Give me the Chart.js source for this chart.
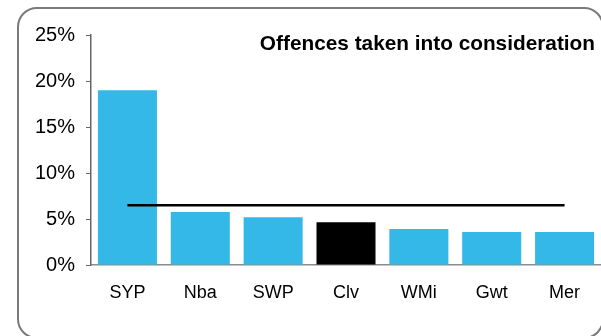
<!DOCTYPE html>
<html>
<head>
<meta charset="utf-8">
<script src="https://cdn.jsdelivr.net/npm/chart.js@4"></script>
<style>
  html, body { margin: 0; padding: 0; background: #fff; }
  #wrap { position: relative; width: 601px; height: 336px; overflow: hidden; }
  #frame { position: absolute; left: 17px; top: 7px; width: 587px; height: 332px;
           border: 2px solid #7a7a7a; border-radius: 20px; box-sizing: border-box; }
  #title { position: absolute; right: 6px; top: 31px; font: bold 20.8px "Liberation Sans", Arial, sans-serif;
           color: #000; white-space: nowrap; }
  canvas { position: absolute; left: 0; top: 0; }
</style>
</head>
<body>
<div id="wrap">
  <div id="frame"></div>
  <canvas id="c" width="601" height="336"></canvas>
  <div id="title">Offences taken into consideration</div>
</div>
<script>
const categories = ["SYP", "Nba", "SWP", "Clv", "WMi", "Gwt", "Mer"];
const offenceShare = [19.0, 5.75, 5.2, 4.65, 3.9, 3.6, 3.6];
const averageShare = [6.5, 6.5, 6.5, 6.5, 6.5, 6.5, 6.5];
const highlighted = "Clv";
const yTicks = [0, 5, 10, 15, 20, 25];

const barColors = categories.map(c => c === highlighted ? "#000000" : "#33b8e8");
const FONT = "'Liberation Sans', Arial, sans-serif";

new Chart(document.getElementById("c"), {
  type: "bar",
  data: {
    labels: categories,
    datasets: [
      {
        type: "line",
        data: averageShare,
        borderColor: "#000",
        borderWidth: 2.5,
        pointRadius: 0,
        fill: false,
        order: 0
      },
      {
        type: "bar",
        data: offenceShare,
        backgroundColor: barColors,
        borderWidth: 0,
        barPercentage: 0.81,
        categoryPercentage: 1.0,
        order: 1
      }
    ]
  },
  options: {
    responsive: false,
    animation: false,
    layout: { padding: { top: 35, right: 0, bottom: 0, left: 0 } },
    plugins: { legend: { display: false }, tooltip: { enabled: false }, title: { display: false } },
    scales: {
      x: {
        grid: { display: false, drawTicks: false },
        border: { display: true, color: "#8c8c8c", width: 1.5 },
        ticks: { color: "#000", font: { family: FONT, size: 18 }, padding: 17 },
        afterFit: s => { s.height = 71; }
      },
      y: {
        min: 0, max: 25,
        afterBuildTicks: s => { s.ticks = yTicks.map(v => ({ value: v })); },
        grid: { drawOnChartArea: false, drawTicks: true, tickLength: 5, color: "#666", lineWidth: 1 },
        border: { display: true, color: "#666", width: 1.5 },
        ticks: { color: "#000", font: { family: FONT, size: 20 }, padding: 11,
                 callback: v => v + "%" },
        afterFit: s => { s.width = 91; }
      }
    }
  }
});
</script>
</body>
</html>
